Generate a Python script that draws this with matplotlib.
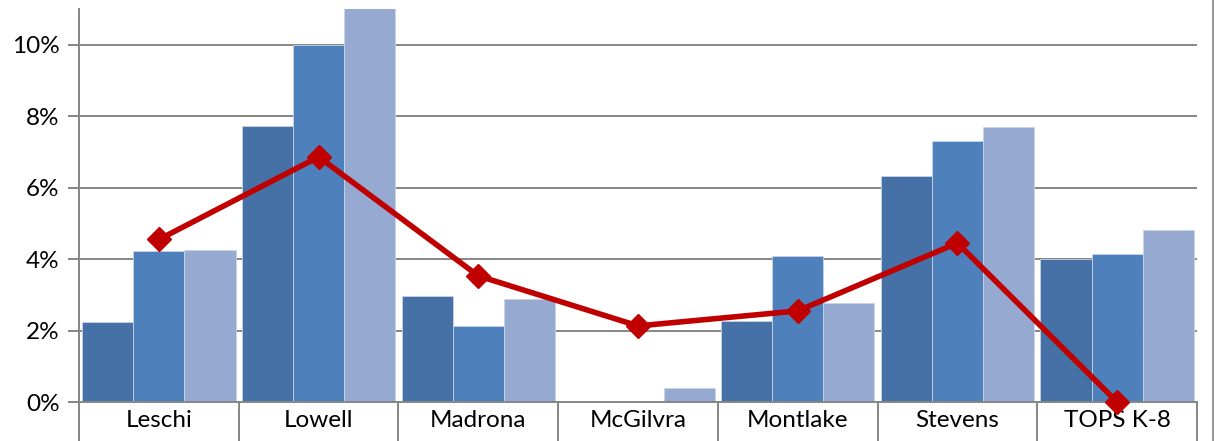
import matplotlib.pyplot as plt
import numpy as np
from matplotlib.ticker import FuncFormatter, FixedLocator
from matplotlib.lines import Line2D

schools = ["Leschi", "Lowell", "Madrona", "McGilvra", "Montlake", "Stevens", "TOPS K-8"]
serie1 = [2.24, 7.73, 2.97, 0.0, 2.27, 6.33, 4.00]
serie2 = [4.23, 10.0, 2.13, 0.0, 4.09, 7.31, 4.15]
serie3 = [4.26, 11.3, 2.88, 0.39, 2.77, 7.70, 4.82]
linea = [4.55, 6.86, 3.53, 2.13, 2.55, 4.45, 0.0]

plt.rcParams['font.family'] = ['Lato', 'DejaVu Sans']

fig = plt.figure(figsize=(12.17, 4.41), dpi=100)
ax = fig.add_axes([0.065, 0.0884, 0.9185, 0.8912])

x = np.arange(len(schools))
w = 0.32
ax.bar(x - w, serie1, w, color='#4571A6', edgecolor='#c8d3e6', linewidth=0.6, zorder=2)
ax.bar(x, serie2, w, color='#4E80BC', edgecolor='#c8d3e6', linewidth=0.6, zorder=2)
ax.bar(x + w, serie3, w, color='#95A9D1', edgecolor='#c8d3e6', linewidth=0.6, zorder=2)
ax.plot(x, linea, color='#C00000', lw=4, marker='D', markersize=12.5, zorder=3, clip_on=False)

ax.set_xlim(-0.5, len(schools) - 0.5)
ax.set_ylim(0, 11)
ax.set_yticks([0, 2, 4, 6, 8, 10])
ax.yaxis.set_major_formatter(FuncFormatter(lambda v, p: '%d%%' % v))
ax.grid(axis='y', color='#868686', lw=1.4, zorder=0)
ax.set_axisbelow(True)

ax.set_xticks(x)
ax.set_xticklabels(schools)
ax.xaxis.set_minor_locator(FixedLocator(np.arange(-0.5, len(schools), 1.0)))
ax.tick_params(axis='x', which='major', length=0, labelsize=17.5, pad=6)
ax.tick_params(axis='x', which='minor', length=40, color='#868686', width=1.4)
ax.tick_params(axis='y', length=8, color='#868686', width=1.4, labelsize=17.5, pad=6)

for s in ['top', 'right']:
    ax.spines[s].set_visible(False)
for s in ['left', 'bottom']:
    ax.spines[s].set_color('#868686')
    ax.spines[s].set_linewidth(1.4)

fig.add_artist(Line2D([0.9967, 0.9967], [0, 1], color='#868686', lw=1.2))

fig.savefig('out.png', dpi=100)
